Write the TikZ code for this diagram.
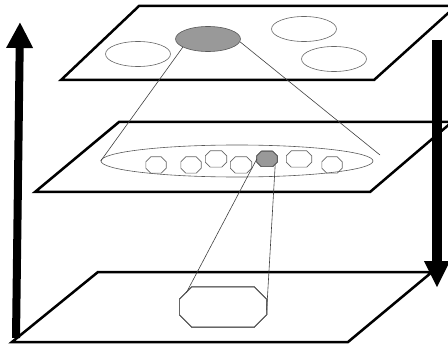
\documentclass[tikz,border=0pt]{standalone}
\usepackage{tikz}
\usetikzlibrary{shapes.geometric,arrows.meta,calc}
\definecolor{shade}{gray}{0.6}
\tikzset{
  plane/.style={line width=2.5pt, line join=miter},
  oval/.style={ellipse, draw=black!60, line width=0.6pt, inner sep=0pt, minimum width=65pt, minimum height=25pt},
  octo/.style={draw=black!60, line width=0.6pt},
  link/.style={black!75, line width=0.6pt},
  bigarrow/.style={line width=8pt, -{Triangle[length=26pt,width=25pt]}}
}
% [style] name, x, y, width, height : an octagon round a named box
\newcommand\octcell[6][]{%
  \node[inner sep=0pt, minimum width=#5pt, minimum height=#6pt] (#2) at (#3,#4) {};
  \pgfmathsetmacro\cut{#6/3.2}
  \draw[octo,#1] ($(#2.north west)+(\cut,0)$) -- ($(#2.north east)+(-\cut,0)$) -- ($(#2.north east)+(0,\cut)$)
    -- ($(#2.south east)+(0,-\cut)$) -- ($(#2.south east)+(-\cut,0)$) -- ($(#2.south west)+(\cut,0)$)
    -- ($(#2.south west)+(0,-\cut)$) -- ($(#2.north west)+(0,\cut)$) -- cycle;
}
\begin{document}
\begin{tikzpicture}[x=1pt,y=-1pt]
\useasboundingbox (0,0) rectangle (448,345);
% the three planes
\draw[plane] (61,80) -- (374,80) -- (456,6) -- (139,6) -- cycle;
\draw[plane] (35,192) -- (370,192) -- (452,122) -- (119,122) -- cycle;
\draw[plane] (12,342) -- (348,342) -- (432,272) -- (98,272) -- cycle;
% arrows at the sides
\coordinate (upfoot) at (16,338); \coordinate (uptip) at (20,22);
\coordinate (downtop) at (437,40); \coordinate (downtip) at (437,288);
\draw[bigarrow] (upfoot) -- (uptip);
\draw[bigarrow, line width=10pt, -{Triangle[length=27pt,width=24pt]}] (downtop) -- (downtip);
% top plane
\node[oval] (e1) at (138,54) {};
\node[oval, fill=shade, draw=black!65] (hit) at (208,39) {};
\node[oval] (e3) at (304,29) {};
\node[oval] (e4) at (334,59) {};
% middle plane
\node[oval, minimum width=272pt, minimum height=32pt, draw=black!65] (row) at (237,161) {};
\foreach \x/\y/\w [count=\i] in {156/165/20, 191/165/20, 216/159/21, 241/165/21, 299/159/25, 332/165/20}
  \octcell{c\i}{\x}{\y}{\w}{16}
\octcell[fill=shade, draw=black!65]{pick}{267}{159}{20}{15}
% bottom plane
\octcell{block}{223}{307}{87}{40}
\coordinate (rowend) at (380,155);
\draw[link] (hit.198) -- (row.west);
\draw[link] (hit.-5) -- (rowend);
\draw[link] (pick.west) -- ($(block.north west)+(7,6)$);
\draw[link] ($(pick.south east)+(-2,-2)$) -- (block.-4);
\end{tikzpicture}
\end{document}
